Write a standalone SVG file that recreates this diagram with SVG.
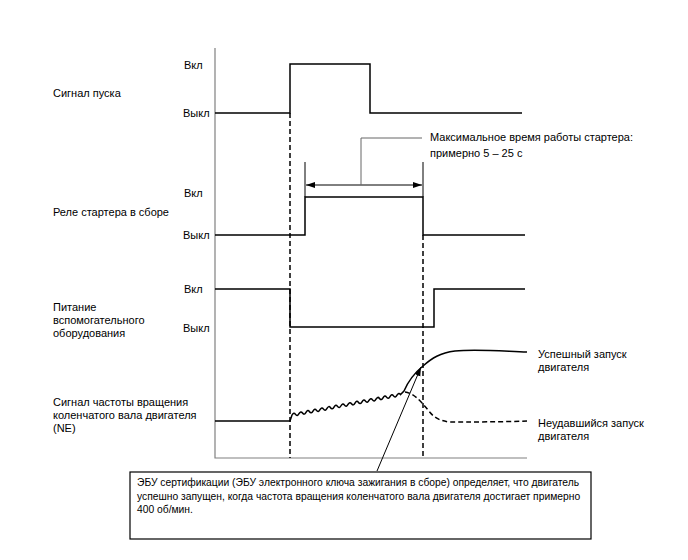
<svg xmlns="http://www.w3.org/2000/svg" width="688" height="560" viewBox="0 0 688 560">
<defs>
<style>
text{font-family:"Liberation Sans",Arial,sans-serif;font-size:11px;fill:#000}
.note text{font-size:10.3px}
.sig{fill:none;stroke:#000;stroke-width:1.5}
.dash{fill:none;stroke:#000;stroke-width:1.5;stroke-dasharray:5,3}
.axis{fill:none;stroke:#808080;stroke-width:1.2}
.lead{fill:none;stroke:#666;stroke-width:1}
.thin{fill:none;stroke:#000;stroke-width:1}
</style>
<marker id="ah" markerWidth="10" markerHeight="8" refX="9" refY="4" orient="auto-start-reverse" markerUnits="userSpaceOnUse">
<path d="M0,1 L9,4 L0,7 Z" fill="#000"/>
</marker>
</defs>
<rect width="688" height="560" fill="#fff"/>
<g id="axes">
<path class="axis" d="M215,48 V458 H527"/>
</g>
<g id="labels-left">
<text x="53" y="97">Сигнал пуска</text>
<text x="53" y="216">Реле стартера в сборе</text>
<text x="53" y="311">Питание</text>
<text x="53" y="324">вспомогательного</text>
<text x="53" y="337">оборудования</text>
<text x="53" y="406">Сигнал частоты вращения</text>
<text x="53" y="419">коленчатого вала двигателя</text>
<text x="53" y="432">(NE)</text>
</g>
<g id="levels">
<text x="184" y="69">Вкл</text>
<text x="183" y="117">Выкл</text>
<text x="184" y="197">Вкл</text>
<text x="183" y="239">Выкл</text>
<text x="184" y="293">Вкл</text>
<text x="183" y="332">Выкл</text>
</g>
<g id="connectors">
<path class="dash" d="M290,113 V458"/>
<path class="dash" d="M423,235 V458"/>
<path class="thin" d="M305,162 V197 M423,162 V197"/>
<path class="thin" d="M306,185 H422" marker-start="url(#ah)" marker-end="url(#ah)"/>
<path class="lead" d="M361,185 V138 H422"/>
<path class="thin" d="M377,471 L421,367" marker-end="url(#ah)"/>
</g>
<g id="start-signal">
<path class="sig" d="M215,113 H290 V64 H370 V113 H522"/>
</g>
<g id="relay">
<path class="sig" d="M215,235 H305 V197 H423 V235 H525"/>
</g>
<g id="acc-power">
<path class="sig" d="M215,289 H290 V327 H434 V289 H525"/>
</g>
<g id="ne-signal">
<path class="sig" d="M215,421 H290 L292,415 q1.75,-3.2 3.5,-0.66 t3.5,-0.66 t3.5,-0.66 t3.5,-0.66 t3.5,-0.66 t3.5,-0.66 t3.5,-0.66 t3.5,-0.66 t3.5,-0.66 t3.5,-0.66 t3.5,-0.66 t3.5,-0.66 t3.5,-0.66 t3.5,-0.66 t3.5,-0.66 t3.5,-0.66 t3.5,-0.66 t3.5,-0.66 t3.5,-0.66 t3.5,-0.66 t3.5,-0.66 t3.5,-0.66 t3.5,-0.66 t3.5,-0.66 t3.5,-0.66 t3.5,-0.66 t3.5,-0.66 t3.5,-0.66 t3.5,-0.66 t3.5,-0.66 t3.5,-0.66 L404,391 C407,384 412,375 423,366 C432,358 440,353 455,351 C475,349 500,351 527,352"/>
<path class="dash" d="M405,392 C413,393 420,400 428,410 C434,418 440,421 450,422 C470,422 500,422 527,421"/>
</g>
<g id="labels-right">
<text x="430" y="141">Максимальное время работы стартера:</text>
<text x="430" y="157">примерно 5 – 25 с</text>
<text x="538" y="358">Успешный запуск</text>
<text x="538" y="371">двигателя</text>
<text x="538" y="427">Неудавшийся запуск</text>
<text x="538" y="440">двигателя</text>
</g>
<g id="note" class="note">
<rect x="130" y="472" width="461" height="67" fill="#fff" stroke="#000" stroke-width="1.2"/>
<text x="137" y="486">ЭБУ сертификации (ЭБУ электронного ключа зажигания в сборе) определяет, что двигатель</text>
<text x="137" y="499.5">успешно запущен, когда частота вращения коленчатого вала двигателя достигает примерно</text>
<text x="137" y="513">400 об/мин.</text>
</g>
</svg>
